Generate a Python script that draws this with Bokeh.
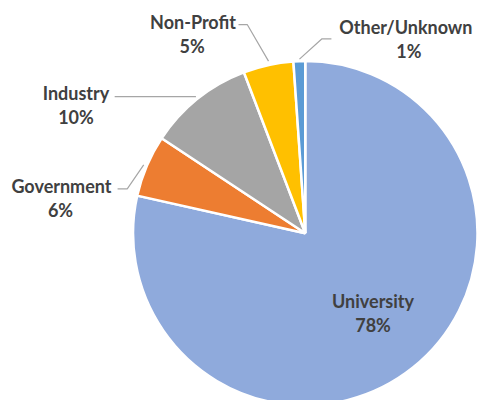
import numpy as np
from bokeh.plotting import figure
from bokeh.models import Range1d, ColumnDataSource
from bokeh.core.properties import value
from bokeh.embed import file_html
from bokeh.resources import INLINE

# ---- data ----
categories = ["University", "Government", "Industry", "Non-Profit", "Other/Unknown"]
shares = [78.5, 5.8, 9.9, 4.7, 1.1]
colors = ["#8FAADC", "#ED7D31", "#A5A5A5", "#FFC000", "#5B9BD5"]
pct_labels = [f"{round(v)}%" for v in shares]

# ---- layout: data space spans the reference frame (493 x 416), y measured down from top ----
W, H = 477, 400
RW, RH = 493, 416
cx, cy, R = 315, 242, 178

def Y(y):
    return RH - y

p = figure(width=W, height=H, output_backend="svg", toolbar_location=None,
           x_range=Range1d(0, RW), y_range=Range1d(0, RH), min_border=0)
p.axis.visible = False
p.grid.visible = False
p.outline_line_color = None
p.background_fill_color = "white"
p.border_fill_color = "white"

# slices: start at 12 o'clock, go clockwise
vals = np.array(shares, dtype=float)
frac = vals / vals.sum()
cum = np.concatenate([[0], np.cumsum(frac)])
start = np.pi / 2 - cum[1:] * 2 * np.pi
end = np.pi / 2 - cum[:-1] * 2 * np.pi
src = ColumnDataSource(dict(start=start, end=end, color=colors, cat=categories))
p.wedge(x=cx, y=Y(cy), radius=R, start_angle="start", end_angle="end",
        fill_color="color", line_color="white", line_width=2.5, source=src)

# leader lines
lead = [
    [(246, 25), (255, 25), (277, 63)],
    [(342, 40), (332, 40), (309, 61)],
    [(118, 100), (202, 100)],
    [(121, 196), (131, 196), (148, 171)],
]
p.multi_line(xs=[[q[0] for q in l] for l in lead], ys=[[Y(q[1]) for q in l] for l in lead],
             line_color="#A6A6A6", line_width=1.2)

# labels
name_pos = [(385, 312), (63, 193), (78, 96), (199, 22), (419, 28)]
pct_pos = [(385, 337), (62, 218), (78, 121), (198, 47), (422, 53)]
lab = ColumnDataSource(dict(
    nx=[q[0] for q in name_pos], ny=[Y(q[1]) for q in name_pos], name=categories,
    px=[q[0] for q in pct_pos], py=[Y(q[1]) for q in pct_pos], pct=pct_labels))
common = dict(text_font=value("Lato"), text_font_style="bold", text_font_size="18px",
              text_color="#404040", text_align="center", text_baseline="middle", source=lab)
p.text(x="nx", y="ny", text="name", **common)
p.text(x="px", y="py", text="pct", **common)

open("out.html", "w").write(file_html(p, INLINE))
